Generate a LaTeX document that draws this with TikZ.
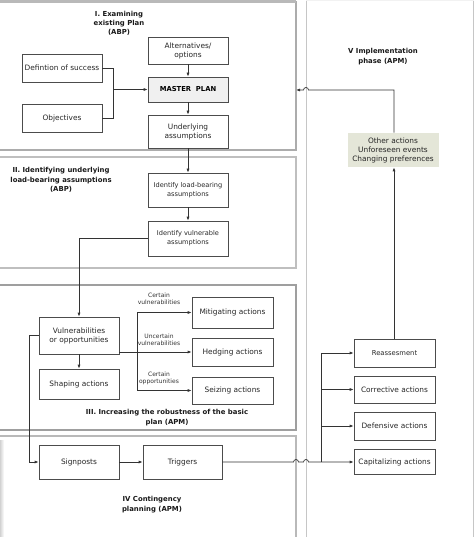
\documentclass[tikz,border=0pt]{standalone}
\usepackage{fontspec}
\setmainfont{DejaVu Sans}
\usetikzlibrary{arrows.meta}
\definecolor{otherfill}{RGB}{228,230,216}
\begin{document}
\begin{tikzpicture}[x=1pt,y=-1pt,
  box/.style={draw=black!70, line width=0.7pt, minimum width=80pt, inner sep=1pt,
    text=black!85, font=\fontsize{7.4}{9}\selectfont, align=center},
  ttl/.style={font=\bfseries\fontsize{6.9}{9.3}\selectfont, align=center, text=black!90},
  lbl/.style={font=\fontsize{6}{7.2}\selectfont, align=center, text=black!80},
  sect/.style={draw=gray!65, line width=1.1pt},
  conn/.style={draw=black!80, line width=0.7pt},
  arr/.style={conn, -{Latex[length=4pt,width=3pt]}}]
\useasboundingbox (0,0) rectangle (474,537);
% sections
\draw[sect] (-3,2) rectangle (296,150);
\draw[gray!55, line width=2.5pt] (-3,1.5) -- (296,1.5);
\draw[sect, draw=gray!50] (-3,157) rectangle (296,268);
\draw[sect, draw=gray!75] (-3,285) rectangle (296,430);
\draw[sect, draw=gray!55] (-3,436) rectangle (296,545);
\draw[draw=gray!45, line width=1pt] (306,545) -- (306,1) -- (473,1) -- (473,545);
\draw[gray!10, line width=1.5pt] (306,0.75) -- (474,0.75);
\shade[left color=gray!35, right color=white] (0,440) rectangle (4,537);
% titles
\node[ttl] (t1) at (119,23.5) {I. Examining\\existing Plan\\(ABP)};
\node[ttl] (t2) at (61,180) {II. Identifying underlying\\load-bearing assumptions\\(ABP)};
\node[ttl] (t3) at (167,417.5) {III. Increasing the robustness of the basic\\plan (APM)};
\node[ttl] (t4) at (152,504.5) {IV Contingency\\planning (APM)};
\node[ttl] (t5) at (383,56.5) {V Implementation\\phase (APM)};
% section I nodes
\node[box, minimum height=27pt] (alt) at (188,50.5) {Alternatives/\\options};
\node[box, minimum height=25pt, fill=gray!12, text=black, font=\bfseries\fontsize{6.8}{9}\selectfont] (master) at (188,89.5) {MASTER\ \ PLAN};
\node[box, minimum height=33pt] (under) at (188,131.5) {Underlying\\assumptions};
\node[box, minimum height=28pt] (defs) at (62,68) {Defintion of success};
\node[box, minimum height=28pt] (obj) at (62,118) {Objectives};
% section II nodes
\node[box, minimum height=34pt, font=\fontsize{6.6}{9}\selectfont] (idlb) at (188,190) {Identify load-bearing\\assumptions};
\node[box, minimum height=35pt, font=\fontsize{6.6}{9}\selectfont] (idvul) at (188,238.5) {Identify vulnerable\\assumptions};
% section III nodes
\node[box, minimum height=37pt] (vuln) at (79,335.5) {Vulnerabilities\\or opportunities};
\node[box, minimum height=30pt] (shape) at (79,384) {Shaping actions};
\node[box, minimum width=81pt, minimum height=31pt] (mitig) at (232.5,312.5) {Mitigating actions};
\node[box, minimum width=81pt, minimum height=28pt] (hedg) at (232.5,352) {Hedging actions};
\node[box, minimum width=81pt, minimum height=27pt] (seiz) at (232.5,390.5) {Seizing actions};
% section IV nodes
\node[box, minimum height=34pt] (sign) at (79,462) {Signposts};
\node[box, minimum width=79pt, minimum height=34pt] (trig) at (182.5,462) {Triggers};
% section V nodes
\node[box, draw=none, fill=otherfill, minimum width=91pt, minimum height=34pt, inner sep=0pt] (other) at (393,150) {Other actions\\Unforeseen events\\Changing preferences};
\node[box, minimum width=81pt, minimum height=28pt, font=\fontsize{6.8}{9}\selectfont] (reass) at (394.5,353) {Reassesment};
\node[box, minimum width=81pt, minimum height=27pt] (corr) at (394.5,389.5) {Corrective actions};
\node[box, minimum width=81pt, minimum height=28pt] (defa) at (394.5,426) {Defensive actions};
\node[box, minimum width=81pt, minimum height=25pt] (cap) at (394.5,462) {Capitalizing actions};
% coordinates
\coordinate (j1) at (113,89.5);
\coordinate (fk) at (137,352);
\coordinate (lft) at (29,462);
\coordinate (bus) at (321,462);
\coordinate (s1r) at (296,90);
% connectors section I
\draw[arr] (alt) -- (master);
\draw[arr] (master) -- (under);
\draw[conn] (defs.east) -| (j1);
\draw[conn] (obj.east) -| (j1);
\draw[arr] (j1) -- (master.west);
% section II
\draw[arr] (under) -- (idlb);
\draw[arr] (idlb) -- (idvul);
\draw[arr] (idvul.west) -| (vuln.north);
% section III
\draw[arr] (vuln) -- (shape);
\draw[arr] (vuln.east |- fk) -- (hedg.west);
\draw[conn] (fk |- mitig.west) -- (fk |- seiz.west);
\draw[arr] (fk |- mitig.west) -- (mitig.west);
\draw[arr] (fk |- seiz.west) -- (seiz.west);
\node[lbl, anchor=south] (l1) at (159,308) {Certain\\vulnerabilities};
\node[lbl, anchor=south] (l2) at (159,349) {Uncertain\\vulnerabilities};
\node[lbl, anchor=south] (l3) at (159,388) {Certain\\opportunities};
% section IV
\draw[arr] (vuln.west) -| (lft) -- (sign.west);
\draw[arr] (sign) -- (trig);
\draw[arr] (trig.east) -- (293.5,462) arc[start angle=180, end angle=360, radius=2.5]
   -- (303.5,462) arc[start angle=180, end angle=360, radius=2.5] -- (cap.west);
% section V bus
\draw[conn] (bus |- reass.west) -- (bus);
\draw[arr] (bus |- reass.west) -- (reass.west);
\draw[arr] (bus |- corr.west) -- (corr.west);
\draw[arr] (bus |- defa.west) -- (defa.west);
\draw[arr] (reass.north -| other.south) ++(1,0) -- ([xshift=1pt]other.south);
\draw[arr] ([xshift=1pt]other.north) |- (308.5,90) arc[start angle=0, end angle=-180, radius=2.5] -- (s1r);
\end{tikzpicture}
\end{document}
